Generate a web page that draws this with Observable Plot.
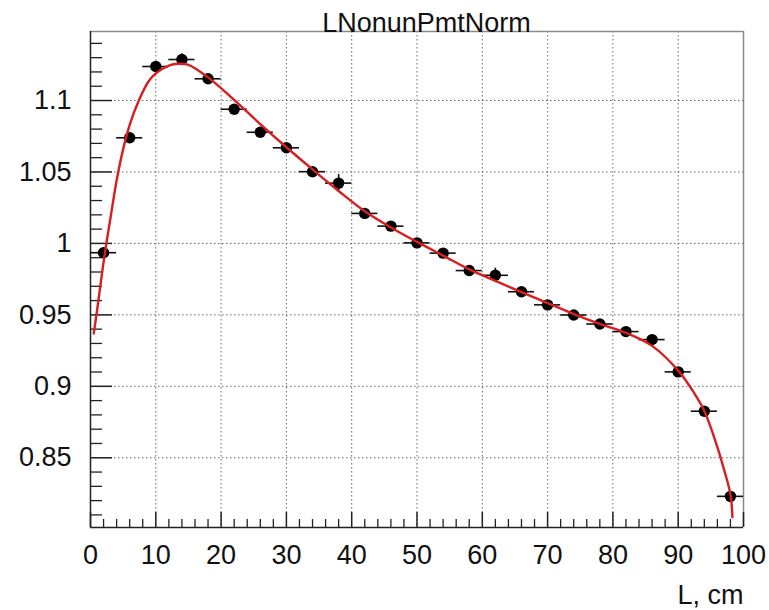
<!DOCTYPE html>
<html>
<head>
<meta charset="utf-8">
<script src="https://cdn.jsdelivr.net/npm/d3@7"></script>
<script src="https://cdn.jsdelivr.net/npm/@observablehq/plot@0.6"></script>
<style>
  html, body { margin: 0; padding: 0; background: #fff; }
  #chart svg { display: block; }
</style>
</head>
<body>
<div id="chart"></div>
<script>
// ---- data ----
const title = "LNonunPmtNorm";
const xLabel = "L, cm";
const binCenters = [2, 6, 10, 14, 18, 22, 26, 30, 34, 38, 42, 46, 50, 54, 58, 62, 66, 70, 74, 78, 82, 86, 90, 94, 98];
const values = [0.9935, 1.0739, 1.1238, 1.1287, 1.1152, 1.0939, 1.0778, 1.0669, 1.0502, 1.0422, 1.0210, 1.0121, 1.0004,
                0.9932, 0.9810, 0.9777, 0.9662, 0.9570, 0.9499, 0.9436, 0.9383, 0.9327, 0.9101, 0.8826, 0.8230];
const yErrors = [0.0025, 0.003, 0.0025, 0.004, 0.0025, 0.0025, 0.0025, 0.0025, 0.0025, 0.006, 0.0025, 0.0025, 0.0025,
                 0.0025, 0.0025, 0.005, 0.0025, 0.0025, 0.0025, 0.0025, 0.0025, 0.0025, 0.0025, 0.0025, 0.0025];
const binHalfWidth = 2;
const fitL = [0.5, 1.0, 1.5, 2.0, 2.5, 3.0, 4.0, 5.0, 6.0, 7.4, 8.9, 10, 12, 13.5, 15, 18, 22, 26, 30, 34, 38, 42, 46, 50,
              54, 58, 62, 66, 70, 74, 78, 82, 86, 90, 92, 94, 96, 97, 98, 98.3];
const fitValues = [0.937, 0.953, 0.970, 0.987, 1.002, 1.016, 1.044, 1.066, 1.083, 1.100, 1.1135, 1.119, 1.1245, 1.1257,
                   1.1250, 1.1162, 1.1005, 1.0835, 1.0673, 1.0518, 1.0367, 1.0225, 1.0112, 1.0011, 0.9915, 0.9818, 0.9738,
                   0.9659, 0.9582, 0.9506, 0.9437, 0.9374, 0.9283, 0.9110, 0.8984, 0.8827, 0.8574, 0.842, 0.8245, 0.8084];
const xDomain = [0, 100];
const yDomain = [0.8012, 1.1483];
const xMajorTicks = [0, 10, 20, 30, 40, 50, 60, 70, 80, 90, 100];
const xMinorTicks = [2, 4, 6, 8, 12, 14, 16, 18, 22, 24, 26, 28, 32, 34, 36, 38, 42, 44, 46, 48, 52, 54, 56, 58,
                     62, 64, 66, 68, 72, 74, 76, 78, 82, 84, 86, 88, 92, 94, 96, 98];
const yMajorTicks = [0.85, 0.9, 0.95, 1.0, 1.05, 1.1];
const yMinorTicks = [0.81, 0.82, 0.83, 0.84, 0.86, 0.87, 0.88, 0.89, 0.91, 0.92, 0.93, 0.94, 0.96, 0.97, 0.98, 0.99,
                     1.01, 1.02, 1.03, 1.04, 1.06, 1.07, 1.08, 1.09, 1.11, 1.12, 1.13, 1.14];
const xGrid = [10, 20, 30, 40, 50, 60, 70, 80, 90];
const yGrid = [0.85, 0.9, 0.95, 1.0, 1.05, 1.1];

// ---- build tables ----
const points = binCenters.map((x, i) => ({x, y: values[i], e: yErrors[i]}));
const fit = fitL.map((x, i) => ({x, y: fitValues[i]}));

const W = 769, H = 610;
const mL = 90, mR = 26, mT = 31, mB = 83;
const fw = W - mL - mR, fh = H - mT - mB;
const font = "'Liberation Sans', Arial, Helvetica, sans-serif";

const chart = Plot.plot({
  width: W,
  height: H,
  marginLeft: mL,
  marginRight: mR,
  marginTop: mT,
  marginBottom: mB,
  style: {fontFamily: font, background: "#fff", color: "#111"},
  x: {domain: xDomain},
  y: {domain: yDomain},
  marks: [
    // grid
    Plot.ruleX(xGrid, {x: d => d, stroke: "#444", strokeWidth: 1, strokeDasharray: "1.5,2.5", strokeOpacity: 0.8}),
    Plot.ruleY(yGrid, {y: d => d, stroke: "#444", strokeWidth: 1, strokeDasharray: "1.5,2.5", strokeOpacity: 0.8}),
    // frame
    Plot.ruleX([xDomain[1]], {x: d => d, stroke: "#8a8a8a", strokeWidth: 1.5}),
    Plot.ruleY([yDomain[1]], {y: d => d, stroke: "#8a8a8a", strokeWidth: 1.5}),
    Plot.ruleX([xDomain[0]], {x: d => d, stroke: "#222", strokeWidth: 1.5}),
    Plot.ruleY([yDomain[0]], {y: d => d, stroke: "#222", strokeWidth: 1.5}),
    // ticks (inward)
    Plot.tickX(xMajorTicks, {x: d => d, insetTop: fh - 15, stroke: "#222", strokeWidth: 1.5}),
    Plot.tickX(xMinorTicks, {x: d => d, insetTop: fh - 8, stroke: "#222", strokeWidth: 1.3}),
    Plot.tickY(yMajorTicks, {y: d => d, insetRight: fw - 22, stroke: "#222", strokeWidth: 1.5}),
    Plot.tickY(yMinorTicks, {y: d => d, insetRight: fw - 12, stroke: "#222", strokeWidth: 1.3}),
    // axis labels
    Plot.axisX(xMajorTicks, {tickSize: 0, tickPadding: 17, fontSize: 27, fill: "#111", tickFormat: d => String(d), label: null}),
    Plot.axisY(yMajorTicks, {tickSize: 0, tickPadding: 19, fontSize: 27, fill: "#111", tickFormat: d => String(+d.toFixed(2)), label: null}),
    // error bars
    Plot.ruleY(points, {y: "y", x1: d => d.x - binHalfWidth, x2: d => d.x + binHalfWidth, stroke: "#111", strokeWidth: 1.6}),
    Plot.ruleX(points, {x: "x", y1: d => d.y - d.e, y2: d => d.y + d.e, stroke: "#111", strokeWidth: 1.6}),
    // markers
    Plot.dot(points, {x: "x", y: "y", r: 5.7, fill: "#000", stroke: null}),
    // fit curve
    Plot.line(fit, {x: "x", y: "y", stroke: "#d81e1e", strokeWidth: 2.4, curve: "catmull-rom"}),
    // title and axis title
    Plot.text([title], {frameAnchor: "top", dx: 9.5, dy: -8.6, lineAnchor: "middle", textAnchor: "middle",
                        fontSize: 27, fill: "#111", fontFamily: font}),
    Plot.text([xLabel], {frameAnchor: "bottom-right", dy: 67.5, lineAnchor: "middle", textAnchor: "end",
                         fontSize: 27, fill: "#111", fontFamily: font})
  ]
});
document.getElementById("chart").appendChild(chart);
</script>
</body>
</html>
